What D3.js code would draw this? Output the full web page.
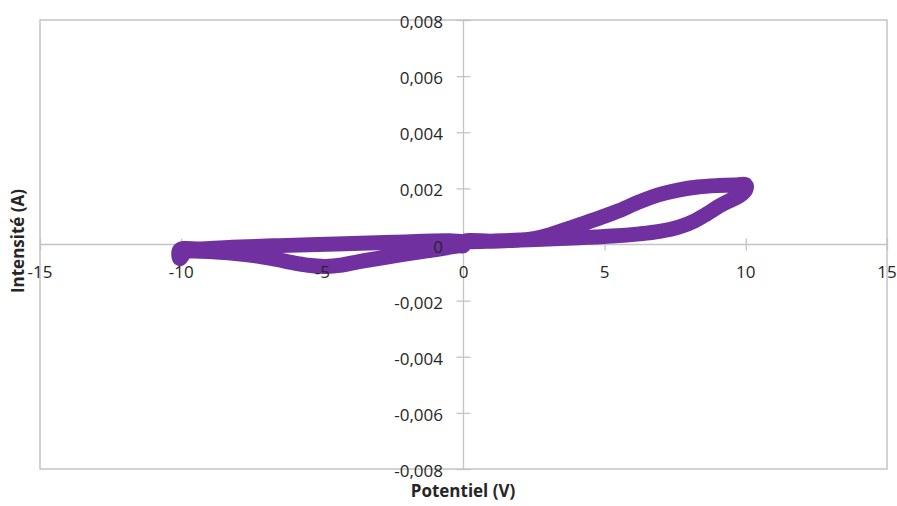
<!DOCTYPE html>
<html><head><meta charset="utf-8">
<script src="https://cdn.jsdelivr.net/npm/d3@7"></script>
<style>
html,body{margin:0;padding:0;background:#fff;}
svg{display:block;}
text{font-family:"Open Sans",sans-serif;fill:#262626;}
</style></head>
<body><svg id="c" width="897" height="506"></svg>
<script>
// Tick values
const xTicks = [-15, -10, -5, 0, 5, 10, 15];
const yTicks = [-0.008, -0.006, -0.004, -0.002, 0, 0.002, 0.004, 0.006, 0.008];

// Loop branches (Potentiel V, Intensité A)
const posUpperV = [0, 1, 2, 2.5, 3.0, 3.6, 4.1, 4.8, 5.5, 6.2, 6.9, 7.6, 8.3, 9.0, 9.6, 10];
const posUpperI = [0.0001, 0.00012, 0.00016, 0.00021, 0.00033, 0.00053, 0.0007, 0.00094, 0.0012, 0.00151, 0.00177, 0.00194, 0.00205, 0.0021, 0.00212, 0.00212];
const posLowerV = [10, 9.77, 9.4, 9.06, 8.6, 8.2, 7.65, 6.94, 6.23, 5.27, 4.64, 4.1, 3, 2, 1, 0];
const posLowerI = [0.00196, 0.00173, 0.00155, 0.00137, 0.00108, 0.00085, 0.00063, 0.00047, 0.00038, 0.0003, 0.00027, 0.00024, 0.0002, 0.00016, 0.00012, 0.0001];
const negLowerV = [0, -0.14, -1.3, -2.5, -3.7, -4.3, -4.9, -5.5, -6.1, -6.62, -7.2, -7.82, -8.89, -9.59, -9.84, -10.05];
const negLowerI = [-0.00004, -0.00005, -0.00023, -0.00041, -0.00061, -0.00073, -0.00078, -0.00074, -0.00064, -0.00053, -0.00043, -0.00035, -0.00026, -0.00023, -0.00026, -0.0005];
const negUpperV = [-10.05, -9.3, -8.2, -6.5, -4.5, -2.5, -0.5];
const negUpperI = [-0.00019, -0.00016, -0.0001, -0.00004, 0.00002, 0.00008, 0.00013];

const svg = d3.select("#c");
const W = 897, H = 506;
svg.append("rect").attr("width", W).attr("height", H).attr("fill", "#fff");

const L = 40, R = 887, T = 20, B = 469;
const x = d3.scaleLinear().domain([-15, 15]).range([L, R]);
const y = d3.scaleLinear().domain([-0.008, 0.008]).range([B, T]);
const x0 = x(0), y0 = y(0);
const gray = "#c4c4c4";

// plot area border
svg.append("rect").attr("x", L).attr("y", T).attr("width", R - L).attr("height", B - T)
  .attr("fill", "none").attr("stroke", gray).attr("stroke-width", 1.5);

// axis lines
svg.append("line").attr("x1", L).attr("x2", R).attr("y1", y0).attr("y2", y0)
  .attr("stroke", gray).attr("stroke-width", 1.3);
svg.append("line").attr("x1", x0).attr("x2", x0).attr("y1", T).attr("y2", B)
  .attr("stroke", gray).attr("stroke-width", 1.3);

const fmtY = d => d === 0 ? "0" : d3.format(".3f")(d).replace(".", ",").replace("−", "-");

// x axis ticks (cross)
const gx = svg.append("g").attr("transform", `translate(0,${y0 - 6})`)
  .call(d3.axisBottom(x).tickValues(xTicks).tickSize(12).tickFormat(d => String(d)));
gx.select(".domain").remove();
gx.selectAll(".tick line").attr("stroke", gray).attr("stroke-width", 1.3);
gx.selectAll(".tick text").remove();

// y axis ticks (cross)
const gy = svg.append("g").attr("transform", `translate(${x0 + 7},0)`)
  .call(d3.axisLeft(y).tickValues(yTicks).tickSize(14).tickFormat(fmtY));
gy.select(".domain").remove();
gy.selectAll(".tick line").attr("stroke", gray).attr("stroke-width", 1.3);
gy.selectAll(".tick text").remove();

// series
const pts = [];
posUpperV.forEach((v, i) => pts.push([v, posUpperI[i]]));
posLowerV.forEach((v, i) => pts.push([v, posLowerI[i]]));
negLowerV.forEach((v, i) => pts.push([v, negLowerI[i]]));
negUpperV.forEach((v, i) => pts.push([v, negUpperI[i]]));
const line = d3.line().x(d => x(d[0])).y(d => y(d[1])).curve(d3.curveCatmullRomClosed.alpha(0.5));
svg.append("path").attr("d", line(pts)).attr("fill", "none")
  .attr("stroke", "#7030a0").attr("stroke-width", 15)
  .attr("stroke-linejoin", "miter").attr("stroke-miterlimit", 2.5);

// labels on top
svg.append("g").selectAll("text").data(xTicks).join("text")
  .attr("x", d => x(d)).attr("y", y0 + 33).attr("text-anchor", "middle")
  .attr("font-size", 17).text(d => String(d));
svg.append("g").selectAll("text").data(yTicks).join("text")
  .attr("x", x0 - 20.5).attr("y", d => y(d) + 8).attr("text-anchor", "end")
  .attr("font-size", 17).text(fmtY);

// titles
svg.append("text").attr("x", 463).attr("y", 497).attr("text-anchor", "middle")
  .attr("font-size", 17).attr("font-weight", "bold").text("Potentiel (V)");
svg.append("text").attr("transform", "translate(24,241) rotate(-90)").attr("text-anchor", "middle")
  .attr("font-size", 17).attr("font-weight", "bold").text("Intensité (A)");
</script></body></html>
